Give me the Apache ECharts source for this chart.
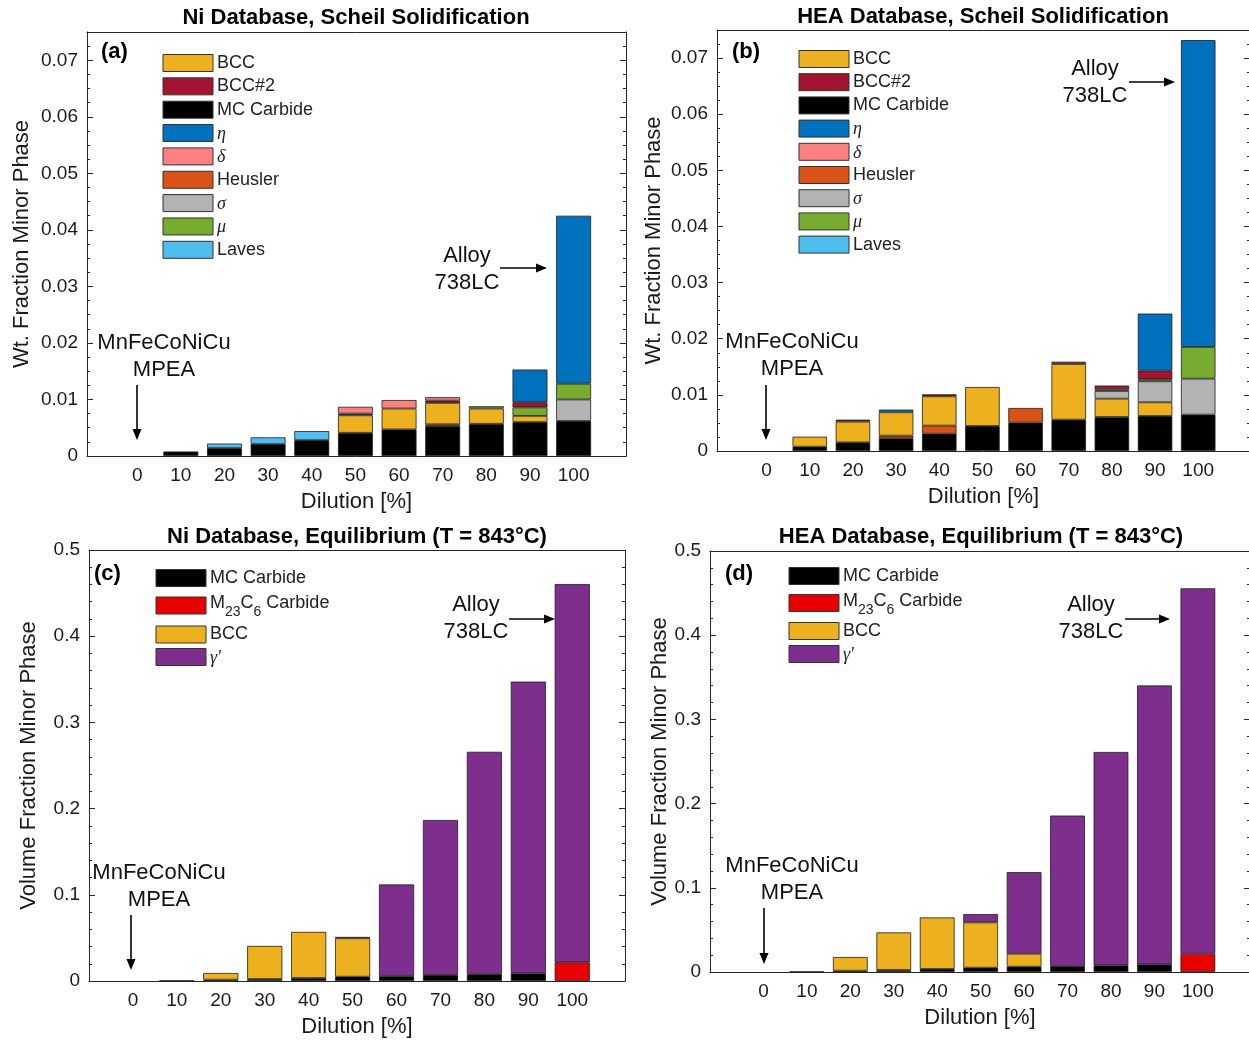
<!DOCTYPE html>
<html><head><meta charset="utf-8">
<script src="https://cdn.jsdelivr.net/npm/echarts@6/dist/echarts.min.js"></script>
<style>html,body{margin:0;padding:0;background:#fff}#c{width:1249px;height:1042px}</style>
</head><body><div id="c"></div>
<script>
// ---------------- DATA ----------------
const dilution = ['0', '10', '20', '30', '40', '50', '60', '70', '80', '90', '100'];
const yTicksScheil = [0, 0.01, 0.02, 0.03, 0.04, 0.05, 0.06, 0.07];
const yTicksEq = [0, 0.1, 0.2, 0.3, 0.4, 0.5];

// (a) Ni database, Scheil solidification (segment heights, wt. fraction)
const niScheilMC      = [0, 0.0008, 0.0014, 0.0021, 0.0028, 0.0041, 0.0047, 0.0053, 0.0057, 0.0060, 0.0062];
const niScheilHeusler = [0, 0, 0, 0, 0, 0, 0, 0.0003, 0, 0, 0];
const niScheilBCC     = [0, 0, 0, 0, 0, 0.0031, 0.0037, 0.0038, 0.0027, 0.0011, 0];
const niScheilSigma   = [0, 0, 0, 0, 0, 0, 0, 0, 0, 0, 0.0038];
const niScheilMu      = [0, 0, 0, 0, 0, 0, 0, 0, 0.0004, 0.0015, 0.0028];
const niScheilBCC2    = [0, 0, 0, 0, 0, 0, 0, 0.0004, 0, 0.0009, 0];
const niScheilEta     = [0, 0, 0, 0, 0, 0.0003, 0, 0, 0, 0.0058, 0.0297];
const niScheilDelta   = [0, 0, 0, 0, 0, 0.0012, 0.0015, 0.0006, 0, 0, 0];
const niScheilLaves   = [0, 0, 0.0008, 0.0012, 0.0016, 0, 0, 0, 0, 0, 0];

// (b) HEA database, Scheil solidification
const heaScheilMC      = [0, 0.00077, 0.00154, 0.00226, 0.00309, 0.00446, 0.00505, 0.00559, 0.00606, 0.00624, 0.00648];
const heaScheilHeusler = [0, 0, 0, 0.00047, 0.00143, 0, 0.00261, 0, 0, 0, 0];
const heaScheilBCC     = [0, 0.00178, 0.00369, 0.00417, 0.00522, 0.00694, 0, 0.00991, 0.00327, 0.00243, 0];
const heaScheilSigma   = [0, 0, 0, 0, 0, 0, 0, 0, 0.00137, 0.00375, 0.00641];
const heaScheilMu      = [0, 0, 0, 0, 0, 0, 0, 0, 0.0003, 0.00035, 0.00565];
const heaScheilBCC2    = [0, 0, 0.00035, 0, 0.00036, 0, 0, 0.0004, 0.00066, 0.00155, 0];
const heaScheilEta     = [0, 0, 0, 0.00047, 0, 0, 0, 0, 0, 0.01016, 0.05466];
const heaScheilDelta   = [0, 0, 0, 0, 0, 0, 0, 0, 0, 0, 0];
const heaScheilLaves   = [0, 0, 0, 0, 0, 0, 0, 0, 0, 0, 0];

// (c) Ni database, equilibrium 843 C (volume fraction)
const niEqMC    = [0, 0.0005, 0.0016, 0.0023, 0.0035, 0.0050, 0.0058, 0.0070, 0.0081, 0.0089, 0];
const niEqM23C6 = [0, 0, 0, 0, 0, 0, 0, 0, 0, 0, 0.0217];
const niEqBCC   = [0, 0, 0.0077, 0.0384, 0.0535, 0.0446, 0, 0, 0, 0, 0];
const niEqGamma = [0, 0, 0, 0, 0, 0.0015, 0.1062, 0.1798, 0.2578, 0.3384, 0.4388];

// (d) HEA database, equilibrium 843 C
const heaEqMC    = [0, 0.0004, 0.0016, 0.0024, 0.0036, 0.0051, 0.0063, 0.0071, 0.0079, 0.0091, 0];
const heaEqM23C6 = [0, 0, 0, 0, 0, 0, 0, 0, 0, 0, 0.0217];
const heaEqBCC   = [0, 0, 0.0162, 0.0446, 0.0612, 0.0538, 0.0154, 0, 0, 0, 0];
const heaEqGamma = [0, 0, 0, 0, 0, 0.0099, 0.0969, 0.1787, 0.2534, 0.3312, 0.4340];

const scheilLegend = ['BCC', 'BCC#2', 'MC Carbide', 'η', 'δ', 'Heusler', 'σ', 'μ', 'Laves'];
const eqLegend = ['MC Carbide', 'M23C6 Carbide', 'BCC', "γ'"];

// ---------------- STYLE ----------------
const FONT = '"Liberation Sans", Arial, sans-serif';
const SERIF = '"Liberation Serif", "DejaVu Serif", serif';
const TXT = '#1a1a1a';
const phaseColor = {
  'BCC': '#EDB120', 'BCC#2': '#A2142F', 'MC Carbide': '#000000', 'η': '#0072BD',
  'δ': '#FF8080', 'Heusler': '#D95319', 'σ': '#B3B3B3', 'μ': '#77AC30', 'Laves': '#4DBEEE',
  'M23C6 Carbide': '#E80000', "γ'": '#7E2F8E'
};
const greek = new Set(['η', 'δ', 'σ', 'μ', "γ'"]);

const panels = [
  { grid: {left: 87, top: 32, width: 539, height: 424}, xMin: -11.5, xMax: 112, yMax: 0.075,
    yTicks: yTicksScheil, yMinor: 0.0025, yName: 'Wt. Fraction Minor Phase', yNameGap: 54,
    title: 'Ni Database, Scheil Solidification', titleX: 356, titleY: 18,
    tag: '(a)', tagX: 101, tagY: 52,
    series: [['MC Carbide', niScheilMC], ['Heusler', niScheilHeusler], ['BCC', niScheilBCC],
             ['σ', niScheilSigma], ['μ', niScheilMu], ['BCC#2', niScheilBCC2],
             ['η', niScheilEta], ['δ', niScheilDelta], ['Laves', niScheilLaves]],
    legend: scheilLegend, legX: 163, legY0: 63, legDy: 23.35, legH: 17,
    mpea: [164, 356.5, 137, 385, 440], alloy: [467, 269, 500, 547, 268] },
  { grid: {left: 717, top: 30, width: 533, height: 421}, xMin: -11.5, xMax: 112, yMax: 0.075,
    yTicks: yTicksScheil, yMinor: 0.0025, yName: 'Wt. Fraction Minor Phase', yNameGap: 52,
    title: 'HEA Database, Scheil Solidification', titleX: 983, titleY: 17,
    tag: '(b)', tagX: 732, tagY: 52,
    series: [['MC Carbide', heaScheilMC], ['Heusler', heaScheilHeusler], ['BCC', heaScheilBCC],
             ['σ', heaScheilSigma], ['μ', heaScheilMu], ['BCC#2', heaScheilBCC2],
             ['η', heaScheilEta], ['δ', heaScheilDelta], ['Laves', heaScheilLaves]],
    legend: scheilLegend, legX: 799, legY0: 59, legDy: 23.2, legH: 17,
    mpea: [792, 355.5, 766, 385, 440], alloy: [1095, 82, 1129, 1175, 82] },
  { grid: {left: 89, top: 550, width: 536, height: 431}, xMin: -10, xMax: 112, yMax: 0.5,
    yTicks: yTicksEq, yMinor: 0.02, yName: 'Volume Fraction Minor Phase', yNameGap: 49,
    title: 'Ni Database, Equilibrium (T = 843°C)', titleX: 357, titleY: 537,
    tag: '(c)', tagX: 94, tagY: 574,
    series: [['MC Carbide', niEqMC], ['M23C6 Carbide', niEqM23C6], ['BCC', niEqBCC], ["γ'", niEqGamma]],
    legend: eqLegend, legX: 156, legYs: [578, 605.5, 634.5, 657], legH: 17,
    mpea: [159, 886.5, 131, 915, 970], alloy: [476, 618, 509, 555, 619] },
  { grid: {left: 710, top: 551, width: 540, height: 421}, xMin: -12.3, xMax: 112, yMax: 0.5,
    yTicks: yTicksEq, yMinor: 0.02, yName: 'Volume Fraction Minor Phase', yNameGap: 37,
    title: 'HEA Database, Equilibrium (T = 843°C)', titleX: 981, titleY: 537,
    tag: '(d)', tagX: 725, tagY: 574,
    series: [['MC Carbide', heaEqMC], ['M23C6 Carbide', heaEqM23C6], ['BCC', heaEqBCC], ["γ'", heaEqGamma]],
    legend: eqLegend, legX: 789, legYs: [576, 603, 631, 654], legH: 17,
    mpea: [792, 879.5, 764, 908, 964], alloy: [1091, 618, 1125, 1170, 619] }
];

const fmt = v => (v === 0 ? '0' : String(+v.toFixed(3)));

const grids = [], xAxes = [], yAxes = [], series = [], graphics = [];

function arrow(x1, y1, x2, y2) {
  const dx = x2 - x1, dy = y2 - y1, L = Math.hypot(dx, dy);
  const ux = dx / L, uy = dy / L, hl = 11, hw = 4.5;
  const bx = x2 - ux * hl, by = y2 - uy * hl;
  graphics.push({ type: 'line', z: 100, shape: {x1, y1, x2: bx, y2: by}, style: {stroke: '#000', lineWidth: 1.6} });
  graphics.push({ type: 'polygon', z: 100, shape: {points: [[x2, y2], [bx - uy * hw, by + ux * hw], [bx + uy * hw, by - ux * hw]]}, style: {fill: '#000'} });
}

panels.forEach((p, i) => {
  const g = p.grid;
  const pxPerUnit = g.width / (p.xMax - p.xMin);
  const spacing = 10 * pxPerUnit;
  const x0 = g.left + (0 - p.xMin) * pxPerUnit;
  const boxGrid = 2 * i, barGrid = 2 * i + 1;
  grids.push({ outerBoundsMode: 'none', containLabel: false, left: g.left, top: g.top, width: g.width, height: g.height });
  grids.push({ outerBoundsMode: 'none', containLabel: false, left: x0 - spacing / 2, top: g.top, width: spacing * dilution.length, height: g.height });

  const lineStyle = {color: '#262626', width: 1};
  // ---- box axes ----
  xAxes.push({
    gridIndex: boxGrid, type: 'value', min: p.xMin, max: p.xMax, position: 'bottom',
    axisLine: {show: true, onZero: false, lineStyle}, axisTick: {show: false}, splitLine: {show: false},
    axisLabel: {show: false},
    name: 'Dilution [%]', nameLocation: 'middle', nameGap: 35,
    nameTextStyle: {fontFamily: FONT, fontSize: 22, color: TXT}
  });
  xAxes.push({
    gridIndex: boxGrid, type: 'value', min: p.xMin, max: p.xMax, position: 'top',
    axisLine: {show: true, onZero: false, lineStyle}, axisTick: {show: false},
    axisLabel: {show: false}, splitLine: {show: false}
  });
  // ---- bar (category) axis ----
  xAxes.push({
    gridIndex: barGrid, type: 'category', data: dilution, position: 'bottom',
    axisLine: {show: false}, axisTick: {show: false}, splitLine: {show: false},
    axisLabel: {fontFamily: FONT, fontSize: 19, color: TXT, margin: 10, interval: 0}
  });
  const yBase = { gridIndex: boxGrid, type: 'value', min: 0, max: p.yMax, splitLine: {show: false} };
  yAxes.push(Object.assign({}, yBase, {
    position: 'left', axisLine: {show: true, onZero: false, lineStyle},
    axisTick: {show: true, inside: true, length: 6, customValues: p.yTicks, lineStyle},
    axisLabel: {customValues: p.yTicks, formatter: fmt, fontFamily: FONT, fontSize: 19, color: TXT, margin: 9},
    name: p.yName, nameLocation: 'middle', nameGap: p.yNameGap,
    nameTextStyle: {fontFamily: FONT, fontSize: 22, color: TXT}
  }));
  yAxes.push(Object.assign({}, yBase, {
    position: 'left', interval: p.yMinor, axisLine: {show: false, onZero: false},
    axisTick: {show: true, inside: true, length: 3, lineStyle}, axisLabel: {show: false}
  }));
  yAxes.push(Object.assign({}, yBase, {
    position: 'right', axisLine: {show: true, onZero: false, lineStyle},
    axisTick: {show: true, inside: true, length: 6, customValues: p.yTicks, lineStyle},
    axisLabel: {show: false}
  }));
  yAxes.push(Object.assign({}, yBase, {
    position: 'right', interval: p.yMinor, axisLine: {show: false, onZero: false},
    axisTick: {show: true, inside: true, length: 3, lineStyle}, axisLabel: {show: false}
  }));
  yAxes.push({
    gridIndex: barGrid, type: 'value', min: 0, max: p.yMax, show: false,
    axisLine: {show: false, onZero: false}, splitLine: {show: false}
  });

  const xIdx = 3 * i + 2, yIdx = 5 * i + 4;
  p.series.forEach(([name, arr]) => {
    series.push({
      type: 'bar', name, xAxisIndex: xIdx, yAxisIndex: yIdx, stack: 'panel' + i,
      barWidth: '80%',
      itemStyle: {color: phaseColor[name], borderColor: '#1e1e1e', borderWidth: 0.8},
      emphasis: {disabled: true}, animation: false,
      data: arr.map(v => (v > 0 ? v : '-'))
    });
  });

  // title
  graphics.push({ type: 'text', z: 100, x: p.titleX, y: p.titleY,
    style: {text: p.title, font: 'bold 22px ' + FONT, fill: '#000', align: 'center', verticalAlign: 'middle'} });
  // tag
  graphics.push({ type: 'text', z: 100, x: p.tagX, y: p.tagY,
    style: {text: p.tag, font: 'bold 22px ' + FONT, fill: '#000', align: 'left', verticalAlign: 'middle'} });
  // legend
  p.legend.forEach((name, k) => {
    const cy = p.legYs ? p.legYs[k] : p.legY0 + k * p.legDy;
    graphics.push({ type: 'rect', z: 100, shape: {x: p.legX, y: cy - p.legH / 2, width: 50, height: p.legH},
      style: {fill: phaseColor[name], stroke: '#333', lineWidth: 1} });
    let st, dy = 0;
    if (greek.has(name)) {
      st = {text: name, font: 'italic 18px ' + SERIF, fill: '#222', align: 'left', verticalAlign: 'middle'};
      dy = 1;
    } else if (name === 'M23C6 Carbide') {
      st = {text: '{n|M}{s|23}{n|C}{s|6}{n| Carbide}', align: 'left', verticalAlign: 'middle',
        rich: { n: {fontFamily: FONT, fontSize: 18, fill: '#222', lineHeight: 32},
                s: {fontFamily: FONT, fontSize: 14, fill: '#222', lineHeight: 13, verticalAlign: 'bottom'} } };
      dy = -2;
    } else {
      st = {text: name, font: '18px ' + FONT, fill: '#222', align: 'left', verticalAlign: 'middle'};
    }
    graphics.push({ type: 'text', z: 100, x: p.legX + 54, y: cy + dy, style: st });
  });
  // annotations
  const m = p.mpea;
  graphics.push({ type: 'text', z: 100, x: m[0], y: m[1],
    style: {text: 'MnFeCoNiCu\nMPEA', font: '22px ' + FONT, fill: '#111', align: 'center', verticalAlign: 'middle', lineHeight: 27} });
  arrow(m[2], m[3], m[2], m[4]);
  const a = p.alloy;
  graphics.push({ type: 'text', z: 100, x: a[0], y: a[1],
    style: {text: 'Alloy\n738LC', font: '22px ' + FONT, fill: '#111', align: 'center', verticalAlign: 'middle', lineHeight: 27} });
  arrow(a[2], a[4], a[3], a[4]);
});

const chart = echarts.init(document.getElementById('c'), null, {renderer: 'canvas', width: 1249, height: 1042});
chart.setOption({
  animation: false,
  backgroundColor: '#ffffff',
  grid: grids, xAxis: xAxes, yAxis: yAxes, series,
  graphic: {elements: graphics}
});
</script>
</body></html>
